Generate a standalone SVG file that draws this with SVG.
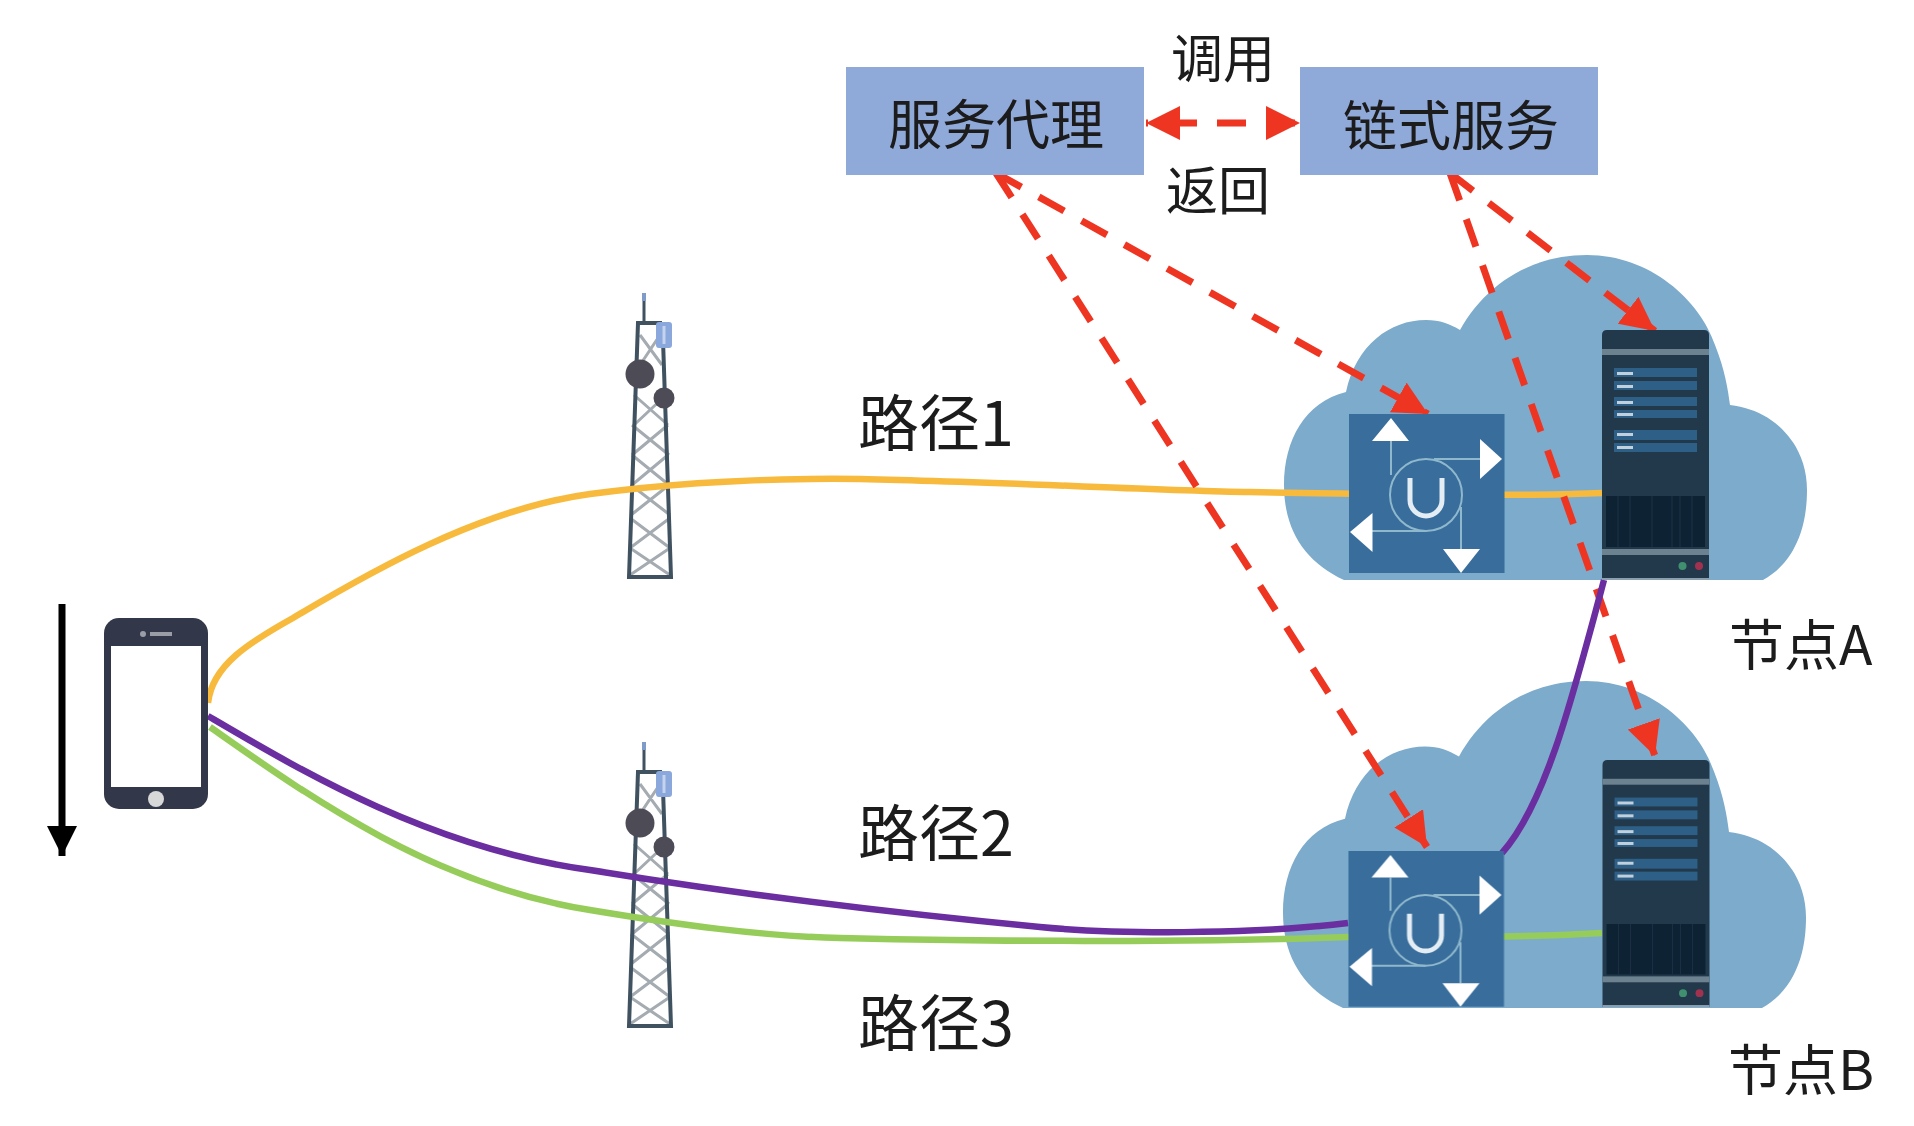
<svg xmlns="http://www.w3.org/2000/svg" xmlns:xlink="http://www.w3.org/1999/xlink" width="1914" height="1126" viewBox="0 0 1914 1126">
<style>
text{font-family:"Noto Sans CJK SC","Noto Sans",sans-serif;fill:#1a1a1a}
.lbl{font-size:54px;text-anchor:middle}
.op{font-size:52px;text-anchor:middle}
.path{font-size:61px}
.node{font-size:55px}
.box{fill:#8fa9d8}
.cloud{fill:#7dabcc}
.red{fill:none;stroke:#ee3524;stroke-width:7;stroke-dasharray:29 20}
.wire{fill:none;stroke-width:6.500}
.wh{fill:#fff}
.thin{fill:none;stroke:#8fb8cc;stroke-width:2}
.lat{fill:none;stroke:#a4abb1;stroke-width:3}
.leg{fill:none;stroke:#3f5161;stroke-width:4}
</style>
<defs>
<filter id="soft" filterUnits="userSpaceOnUse" x="0" y="0" width="1914" height="1126"><feGaussianBlur stdDeviation="0.700"/></filter>
<marker id="head" viewBox="0 0 34 34" refX="34" refY="17" markerWidth="34" markerHeight="34" markerUnits="userSpaceOnUse" orient="auto-start-reverse"><path d="M0 0L34 17L0 34Z" fill="#ee3524"/></marker>
<marker id="headBlack" viewBox="0 0 30 30" refX="30" refY="15" markerWidth="30" markerHeight="30" markerUnits="userSpaceOnUse" orient="auto"><path d="M0 0L30 15L0 30Z" fill="#000"/></marker>
<path id="cloudShape" class="cloud" d="M1344 580C1305 562 1284 530 1284 485C1284 440 1305 402 1346 392C1356 345 1390 320 1426 320C1440 320 1450 324 1460 330C1485 285 1530 255 1587 255C1650 255 1700 300 1715 345C1725 370 1728 390 1730 405C1775 410 1807 445 1807 490C1807 535 1790 565 1763 580Z"/>
<g id="server">
<path d="M1602 580V335Q1602 330 1607 330H1704Q1709 330 1709 335V580Z" fill="#22384b"/>
<rect x="1602" y="349" width="107" height="6" fill="#6d8290"/>
<g fill="#2f5f86">
<rect x="1614" y="368" width="83" height="9"/><rect x="1614" y="381" width="83" height="9"/>
<rect x="1614" y="397" width="83" height="9"/><rect x="1614" y="410" width="83" height="8"/>
<rect x="1614" y="430" width="83" height="10"/><rect x="1614" y="443" width="83" height="9"/>
</g>
<g fill="#c0d0dc">
<rect x="1617" y="372" width="16" height="3"/><rect x="1617" y="385" width="16" height="3"/>
<rect x="1617" y="401" width="16" height="3"/><rect x="1617" y="413" width="16" height="3"/>
<rect x="1617" y="433" width="16" height="3"/><rect x="1617" y="446" width="16" height="3"/>
</g>
<rect x="1606" y="496" width="99" height="51" fill="#0f2233"/>
<path d="M1618 496V547M1630 496V547M1652 496V547M1672 496V547M1680 496V547M1692 496V547" stroke="#1a2f42" stroke-width="1.500"/>
<rect x="1602" y="549" width="107" height="6" fill="#6d8290"/>
<rect x="1602" y="578" width="107" height="2" fill="#8ba0ae"/>
<ellipse cx="1682.500" cy="566" rx="4" ry="4" fill="#3f9070"/>
<ellipse cx="1699" cy="566" rx="4" ry="4" fill="#a03050"/>
</g>
<g id="switch">
<rect x="1349" y="414" width="155.500" height="159" fill="#376d9c"/>
<circle class="thin" cx="1426" cy="495" r="36"/>
<path class="thin" d="M1391 441V475M1434 459H1480M1372 531H1426M1461 507V549"/>
<path d="M1410 478V500A16 16 0 0 0 1442 500V478" fill="none" stroke="#e4edf3" stroke-width="5"/>
<path class="wh" d="M1391 418L1409 441H1372Z"/>
<path class="wh" d="M1480 439L1502 459L1480 479Z"/>
<path class="wh" d="M1372.500 513L1350 532L1372.500 552Z"/>
<path class="wh" d="M1443 549H1480L1461 573Z"/>
</g>
<g id="tower">
<path d="M644 293V323" stroke="#3f5161" stroke-width="3"/>
<rect x="642" y="293" width="4" height="8" fill="#7f9cc8"/>
<path class="lat" d="M640 335L662 365M660 335L640 365M634 395L668 425M666 395L634 425M632 425L669 455M668 425L632 455M632 455L669 485M668 455L632 485M631 485L670 515M669 485L631 515M630 518L670 548M670 518L630 548M630 548L670 575M670 548L630 575"/>
<path class="leg" d="M662 323H638L629 577H671L663 340"/>
<rect x="656" y="322" width="16" height="26" rx="3" fill="#8aa8dc"/>
<path d="M664 326V344" stroke="#c4d3ee" stroke-width="3"/>
<circle cx="640" cy="374" r="14.500" fill="#4e4c55"/>
<circle cx="664" cy="398" r="10.500" fill="#4e4c55"/>
</g>
<clipPath id="bottomB"><rect x="1340" y="840" width="380" height="167"/></clipPath>
</defs>

<rect width="1914" height="1126" fill="#fff"/>

<g filter="url(#soft)">
<g id="cloud-a"><use href="#cloudShape"/></g>
<g id="cloud-b"><use href="#cloudShape" transform="translate(-1 681) scale(1 1.006) translate(0 -255)"/></g>
<g id="tower-1"><use href="#tower"/></g>
<g id="tower-2"><use href="#tower" transform="translate(0 449)"/></g>

<g id="connectors">
<path class="wire" stroke="#f7ba3e" d="M208 703C212 665 250 642 293 618C370 572 480 509 590 494C680 482 780 478 860 479C1000 482 1150 490 1250 492C1350 494 1500 497 1602 493"/>
<path class="wire" stroke="#96cc5a" d="M210 727C300 790 430 885 590 910C680 925 760 936 840 938C1000 942 1200 942 1348 937C1430 937 1520 938 1602 933"/>
<path class="red" d="M996 173L1428 414" marker-end="url(#head)"/>
<path class="red" d="M996 173L1427 847" marker-end="url(#head)"/>
<path class="red" d="M1450 173L1655 331" marker-end="url(#head)"/>
<path class="red" d="M1450 173L1655 756" marker-end="url(#head)"/>
<path class="red" d="M1146 123H1300" stroke-dashoffset="27" marker-start="url(#head)" marker-end="url(#head)"/>
<path class="wire" stroke="#6a2ea0" d="M208 716C300 770 430 848 590 870C700 888 840 908 1040 927C1110 934 1250 935 1348 923"/>
<path class="wire" stroke="#6a2ea0" d="M1502 853C1545 805 1572 700 1604 580"/>
<path d="M62 604V856" fill="none" stroke="#000" stroke-width="7" marker-end="url(#headBlack)"/>
</g>

<g id="phone">
<rect x="104" y="618" width="104" height="191" rx="15" fill="#33374a"/>
<rect x="111" y="646" width="90" height="141" fill="#fff"/>
<circle cx="156" cy="799" r="8" fill="#d8d8d8"/>
<circle cx="143" cy="634" r="3" fill="#9a9ca6"/>
<rect x="150" y="632" width="22" height="4" fill="#9a9ca6"/>
</g>

<g id="switch-a"><use href="#switch"/></g>
<g id="server-a"><use href="#server"/></g>
<g id="switch-b" clip-path="url(#bottomB)"><use href="#switch" transform="translate(-0.500 851) scale(1 .98) translate(0 -414)"/></g>
<g id="server-b"><use href="#server" transform="translate(0.500 760) scale(1 .988) translate(0 -330)"/></g>

<g id="service-proxy"><rect class="box" x="846" y="67" width="298" height="108"/><text class="lbl" x="996" y="145">服务代理</text></g>
<g id="chain-service"><rect class="box" x="1300" y="67" width="298" height="108"/><text class="lbl" x="1451" y="146">链式服务</text></g>
<g id="labels">
<text class="op" x="1223" y="78">调用</text>
<text class="op" x="1218" y="210">返回</text>
<text class="path" x="858" y="446">路径1</text>
<text class="path" x="858" y="856">路径2</text>
<text class="path" x="858" y="1046">路径3</text>
<text class="node" x="1729" y="665">节点A</text>
<text class="node" x="1728" y="1090">节点B</text>
</g>
</g>
</svg>
